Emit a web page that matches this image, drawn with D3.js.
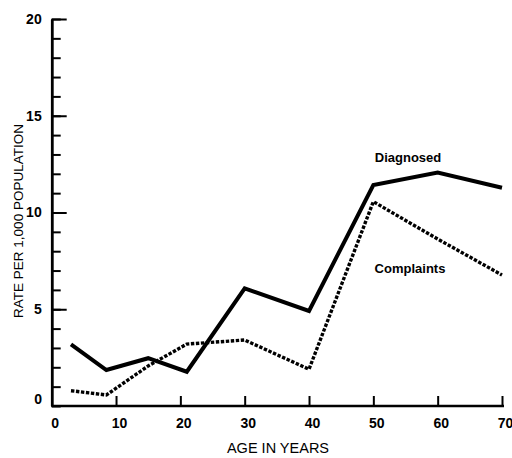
<!DOCTYPE html>
<html><head><meta charset="utf-8">
<script src="https://cdn.jsdelivr.net/npm/d3@7"></script>
<style>
body{margin:0;background:#fff;}
svg{display:block;}
text{font-family:"Liberation Sans",Arial,sans-serif;fill:#000;}
</style></head>
<body>
<svg id="c" width="512" height="458"></svg>
<script>
const ages = [3, 8.5, 15, 21, 30, 40, 50, 60, 70];
const diagnosed = [3.19, 1.86, 2.47, 1.77, 6.08, 4.91, 11.42, 12.07, 11.28];
const complaints = [0.79, 0.57, 2.07, 3.2, 3.41, 1.9, 10.56, 8.63, 6.77];
const xTicks = [0, 10, 20, 30, 40, 50, 60, 70];
const yMajor = [0, 5, 10, 15, 20];
const yMinor = d3.range(0, 21);

const svg = d3.select("#c");
const x = d3.scaleLinear().domain([0, 70]).range([51.7, 502]);
const y = d3.scaleLinear().domain([0, 20]).range([406, 19]);

// Y axis minor ticks
const gyMin = svg.append("g").attr("transform", `translate(${x(0)},0)`)
  .call(d3.axisLeft(y).tickValues(yMinor).tickSizeInner(-9).tickSizeOuter(0).tickFormat(""));
// Y axis major ticks
const gy = svg.append("g").attr("transform", `translate(${x(0)},0)`)
  .call(d3.axisLeft(y).tickValues(yMajor.filter(d => d > 0)).tickSizeInner(-15).tickSizeOuter(0).tickPadding(10));
[gyMin, gy].forEach(g => {
  g.select(".domain").attr("stroke", "#000").attr("stroke-width", 2.5);
  g.selectAll(".tick line").attr("stroke", "#000").attr("stroke-width", 2);
});
gy.selectAll(".tick text").attr("font-size", 14).attr("font-weight", "bold")
  .attr("font-family", "'Liberation Sans', Arial, sans-serif").attr("fill", "#000");
// zero label
svg.append("text").attr("x", 42).attr("y", y(0) - 7).attr("dy", "0.35em")
  .attr("text-anchor", "end").attr("font-size", 14).attr("font-weight", "bold").text("0");

// X axis
const gx = svg.append("g").attr("transform", `translate(0,${y(0)})`)
  .call(d3.axisBottom(x).tickValues(xTicks).tickSizeInner(-10).tickSizeOuter(0).tickPadding(12));
gx.select(".domain").attr("stroke", "#000").attr("stroke-width", 2.5)
  .attr("d", `M${x(0)},0H${x(70) + 2}`);
gx.selectAll(".tick line").attr("stroke", "#000").attr("stroke-width", 2);
gx.selectAll(".tick text").attr("font-size", 14).attr("font-weight", "bold")
  .attr("font-family", "'Liberation Sans', Arial, sans-serif").attr("fill", "#000")
  .attr("dx", 3);
gx.selectAll(".tick").filter(d => d === 0).select("line").remove();

// Lines
const line = d3.line().x((d, i) => x(ages[i])).y(d => y(d));
svg.append("path").datum(diagnosed).attr("d", line)
  .attr("fill", "none").attr("stroke", "#000").attr("stroke-width", 4)
  .attr("stroke-linejoin", "miter");
svg.append("path").datum(complaints).attr("d", line)
  .attr("fill", "none").attr("stroke", "#000").attr("stroke-width", 3.4)
  .attr("stroke-dasharray", "3.4,1.6");

// Labels
svg.append("text").attr("x", 408).attr("y", 157).attr("dy", "0.35em")
  .attr("text-anchor", "middle").attr("font-size", 13).attr("font-weight", "bold").text("Diagnosed");
svg.append("text").attr("x", 410).attr("y", 268).attr("dy", "0.35em")
  .attr("text-anchor", "middle").attr("font-size", 13).attr("font-weight", "bold").text("Complaints");
svg.append("text").attr("x", 278).attr("y", 448).attr("dy", "0.35em")
  .attr("text-anchor", "middle").attr("font-size", 14.5).text("AGE IN YEARS");
svg.append("text").attr("transform", "translate(18,221) rotate(-90)").attr("dy", "0.35em")
  .attr("text-anchor", "middle").attr("font-size", 13.5).text("RATE PER 1,000 POPULATION");
</script>
</body></html>
